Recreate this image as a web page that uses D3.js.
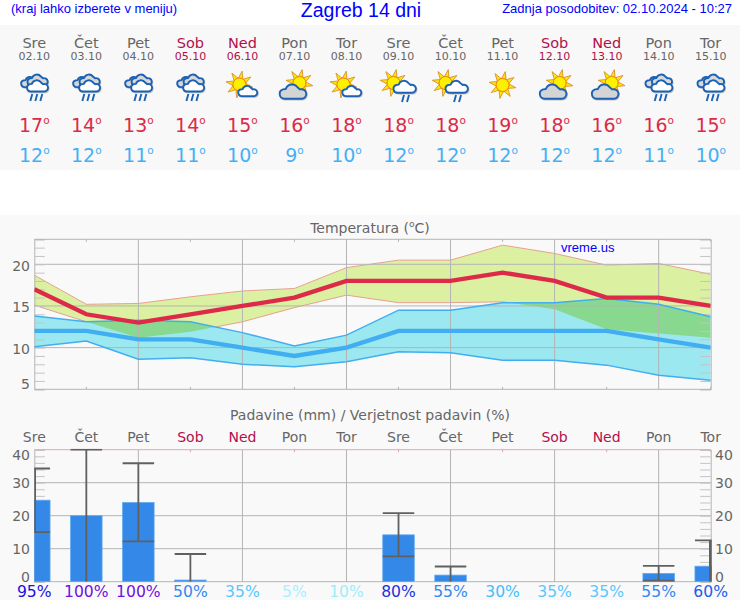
<!DOCTYPE html>
<html>
<head>
<meta charset="utf-8">
<script src="https://cdn.jsdelivr.net/npm/d3@7"></script>
<style>
body { margin: 0; background: #fff; }
text { font-family: "DejaVu Sans", sans-serif; fill: #666; }
.head { font-family: "Liberation Sans", Arial, sans-serif; fill: #0000ff; }
</style>
</head>
<body>
<svg width="740" height="600"></svg>
<script>
var svg = d3.select("svg");

// Data
var days = ["Sre", "Čet", "Pet", "Sob", "Ned", "Pon", "Tor", "Sre", "Čet", "Pet", "Sob", "Ned", "Pon", "Tor"];
var dates = ["02.10", "03.10", "04.10", "05.10", "06.10", "07.10", "08.10", "09.10", "10.10", "11.10", "12.10", "13.10", "14.10", "15.10"];
var icons = ["rain", "rain", "rain", "rain", "sunCloud", "cloudSun", "sunCloud", "sunRain", "sunRain", "sun", "cloudSun", "cloudSun", "rain", "rain"];
var tMax = [17, 14, 13, 14, 15, 16, 18, 18, 18, 19, 18, 16, 16, 15];
var tMin = [12, 12, 11, 11, 10, 9, 10, 12, 12, 12, 12, 12, 11, 10];
var tMaxHigh = [18.7, 15.2, 15.3, 16.1, 16.8, 17.1, 19.6, 20.5, 20.5, 22.3, 21.3, 19.9, 20.1, 18.8];
var tMaxLow = [15.1, 13.1, 11.2, 11.9, 13.1, 14.8, 16.3, 15.4, 15.4, 15.5, 14.6, 12.2, 11.7, 11.2];
var tMinHigh = [13.8, 13.1, 13.3, 13.1, 11.8, 10.2, 11.5, 14.5, 14.5, 15.4, 15.4, 15.9, 15.2, 13.7];
var tMinLow = [10.1, 10.8, 8.6, 8.8, 8, 7.7, 8.3, 9.5, 9.4, 8.5, 8.5, 7.9, 6.7, 6.1];
var rain = [24.7, 20, 24, 0.5, 0, 0, 0, 14.2, 2, 0, 0, 0, 2.5, 4.7];
var rainHigh = [34.3, 40, 35.9, 8.4, 0, 0, 0, 20.8, 4.6, 0, 0, 0, 4.8, 12.5];
var rainLow = [15, 0, 12.2, 0, 0, 0, 0, 7.7, 0, 0, 0, 0, 0.3, 0];
var rainProb = [95, 100, 100, 50, 35, 5, 10, 80, 55, 30, 35, 35, 55, 60];
var probColors = ["#2010e0", "#7010e0", "#7010e0", "#3388f0", "#58c8ff", "#a8f0ff", "#a0ecf8", "#2030e0", "#3388f0", "#40c0ff", "#58c8ff", "#58c8ff", "#3388f0", "#2060e8"];

var weekend = "#b0104c", red = "#dc2a48", blue = "#40aef0";
var idx = d3.range(days.length);
var dayColor = function (i) { return days[i] == "Sob" || days[i] == "Ned" ? weekend : "#666"; };

// Scales
var left = 34.3, right = 710.7;
var x = d3.scaleLinear().domain([0, 13]).range([left, right]);
var yT = d3.scaleLinear().domain([5, 23]).range([389.3, 239.3]);
var yR = d3.scaleLinear().domain([0, 40]).range([581.7, 449.7]);

// Backgrounds
svg.append("rect").attr("y", 25).attr("width", 740).attr("height", 145).attr("fill", "#f8f8f8");
svg.append("rect").attr("y", 215).attr("width", 740).attr("height", 385).attr("fill", "#f9f9f9");

// Header
svg.append("text").attr("class", "head").attr("x", 11).attr("y", 13).attr("font-size", 13).text("(kraj lahko izberete v meniju)");
svg.append("text").attr("class", "head").attr("x", 361).attr("y", 17).attr("font-size", 19.5).attr("text-anchor", "middle").text("Zagreb 14 dni");
svg.append("text").attr("class", "head").attr("x", 732).attr("y", 13).attr("font-size", 13).attr("text-anchor", "end").text("Zadnja posodobitev: 02.10.2024 - 10:27");

// Forecast table
var col = svg.append("g").selectAll("g").data(idx).enter().append("g")
    .attr("transform", function (i) { return "translate(" + x(i) + ",0)"; });
col.append("text").attr("y", 48).attr("text-anchor", "middle").attr("font-size", 14.5)
    .style("fill", dayColor).text(function (i) { return days[i]; });
col.append("text").attr("y", 60).attr("text-anchor", "middle").attr("font-size", 11)
    .style("fill", dayColor).text(function (i) { return dates[i]; });

function degree(sel, y, values, color) {
    var t = sel.append("text").attr("y", y).attr("text-anchor", "middle").attr("font-size", 19).style("fill", color);
    t.append("tspan").text(function (i) { return values[i]; });
    t.append("tspan").attr("font-size", 10.5).attr("dy", -8).text("o");
}
degree(col, 132, tMax, red);
degree(col, 162, tMin, "#44b0f4");

// Weather icons
function drawCloud(g, cx, cy, s, fill) {
    var p = d3.path();
    p.moveTo(cx - 10 * s, cy + 6 * s);
    p.arc(cx - 10 * s, cy + 1 * s, 5 * s, Math.PI / 2, Math.PI * 1.4);
    p.arc(cx - 2 * s, cy - 2 * s, 7 * s, Math.PI * 1.1, Math.PI * 1.8);
    p.arc(cx + 8 * s, cy + 1 * s, 5 * s, Math.PI * 1.4, Math.PI * 2.5);
    p.closePath();
    g.append("path").attr("d", p.toString()).attr("transform", "translate(0.8,1)").attr("fill", "none")
        .attr("stroke", "#c0c0c0").attr("stroke-width", 1.6);
    g.append("path").attr("d", p.toString()).attr("fill", fill)
        .attr("stroke", "#1c62b4").attr("stroke-width", 1.9).attr("stroke-linejoin", "round");
}
function drawSun(g, cx, cy, r) {
    d3.range(8).forEach(function (k) {
        var a = k * Math.PI / 4 + 0.2, b = 0.36;
        var pts = [[cx + r * Math.cos(a - b), cy + r * Math.sin(a - b)],
                   [cx + r * 2.1 * Math.cos(a), cy + r * 2.1 * Math.sin(a)],
                   [cx + r * Math.cos(a + b), cy + r * Math.sin(a + b)]];
        g.append("path").attr("d", d3.line()(pts) + "Z").attr("fill", "#ffe800")
            .attr("stroke", "#d89030").attr("stroke-width", 0.9);
    });
    g.append("circle").attr("cx", cx).attr("cy", cy).attr("r", r).attr("fill", "#fff000")
        .attr("stroke", "#f08010").attr("stroke-width", 1);
}
function drawDrops(g, cx, y, n) {
    d3.range(n).forEach(function (k) {
        var dx = cx + (k - (n - 1) / 2) * 5;
        g.append("line").attr("x1", dx + 1).attr("x2", dx - 1).attr("y1", y).attr("y2", y + 7)
            .attr("stroke", "#1c62b4").attr("stroke-width", 1.9);
    });
}
var iconDraw = {
    rain: function (g) {
        drawCloud(g, -3, 83, 0.68, "#d8d8d8");
        drawCloud(g, 4, 81, 0.72, "#d8d8d8");
        drawCloud(g, 4, 87, 0.75, "#fff");
        drawDrops(g, 2, 94, 3);
    },
    sunCloud: function (g) {
        drawSun(g, -3, 84.5, 6.5);
        drawCloud(g, 6, 92, 0.68, "#fff");
    },
    cloudSun: function (g) {
        drawSun(g, 5, 83, 6.5);
        drawCloud(g, -0.5, 93, 0.95, "#d4d4d4");
    },
    sunRain: function (g) {
        drawSun(g, -5, 83, 6.5);
        drawCloud(g, 7, 88, 0.8, "#fff");
        drawDrops(g, 7, 95, 2);
    },
    sun: function (g) {
        drawSun(g, 0, 85, 6.5);
    }
};
col.each(function (i) { iconDraw[icons[i]](d3.select(this)); });

// Temperature chart
svg.append("text").attr("x", 370).attr("y", 233).attr("text-anchor", "middle").attr("font-size", 14)
    .call(function (t) {
        t.append("tspan").text("Temperatura (");
        t.append("tspan").attr("font-size", 9).attr("dy", -6).text("o");
        t.append("tspan").attr("dy", 6).text("C)");
    });

var defs = svg.append("defs");
defs.append("clipPath").attr("id", "clipT").append("rect")
    .attr("x", left).attr("y", yT(23)).attr("width", right - left).attr("height", yT(5) - yT(23));
defs.append("clipPath").attr("id", "clipR").append("rect")
    .attr("x", left).attr("y", yR(40) - 1).attr("width", right - left + 1).attr("height", yR(0) - yR(40) + 1);

function band(hi, lo, y) {
    return d3.area().x(function (i) { return x(i); })
        .y0(function (i) { return y(lo[i]); })
        .y1(function (i) { return y(hi[i]); })(idx);
}
function trace(v, y) {
    return d3.line().x(function (i) { return x(i); }).y(function (i) { return y(v[i]); })(idx);
}
defs.append("clipPath").attr("id", "clipWarm").append("path").attr("d", band(tMaxHigh, tMaxLow, yT));

// red band and its edges go under the blue band
var gT = svg.append("g").attr("clip-path", "url(#clipT)");
gT.append("path").attr("d", band(tMaxHigh, tMaxLow, yT)).attr("fill", "#dbf0a0");
gT.append("path").attr("d", trace(tMaxHigh, yT)).attr("fill", "none").attr("stroke", "#e8a090");
gT.append("path").attr("d", trace(tMaxLow, yT)).attr("fill", "none").attr("stroke", "#e8a090");
gT.append("path").attr("d", band(tMinHigh, tMinLow, yT)).attr("fill", "#9ce8f0");
gT.append("g").attr("clip-path", "url(#clipWarm)")
    .append("path").attr("d", band(tMinHigh, tMinLow, yT)).attr("fill", "#88d890");

// Axes and grid lines
function frame(yScale, majors, ticks) {
    var g = svg.append("g");
    g.selectAll(".gx").data(idx.filter(function (i) { return i % 2 == 0 && i > 0 && i < 13; })).enter().append("line")
        .attr("x1", x).attr("x2", x).attr("y1", yScale.range()[1]).attr("y2", yScale.range()[0])
        .attr("stroke", "#b4b4b4");
    g.selectAll(".gy").data(majors).enter().append("line")
        .attr("x1", left).attr("x2", right).attr("y1", yScale).attr("y2", yScale)
        .attr("stroke", "#b4b4b4");
    var axL = d3.axisLeft(yScale).tickValues(ticks).tickSize(-10.5).tickFormat("");
    var axR = d3.axisRight(yScale).tickValues(ticks).tickSize(-10.5).tickFormat("");
    [g.append("g").attr("transform", "translate(" + left + ",0)").call(axL),
     g.append("g").attr("transform", "translate(" + right + ",0)").call(axR)].forEach(function (a) {
        a.selectAll("line").attr("stroke", "#c4c4c4");
        a.select(".domain").attr("stroke", "#b4b4b4");
    });
    return g;
}
var frameT = frame(yT, [10, 15, 20], d3.range(5, 24));
[yT(23), yT(5)].forEach(function (v) {
    frameT.append("line").attr("x1", left).attr("x2", right).attr("y1", v).attr("y2", v).attr("stroke", "#b4b4b4");
});
frameT.selectAll(".oddT").data(idx.filter(function (i) { return i % 2 == 1; })).enter().append("line")
    .attr("x1", x).attr("x2", x).attr("y1", yT(23)).attr("y2", yT(23) + 2.5).attr("stroke", "#b4b4b4");
frameT.selectAll(".oddB").data(idx.filter(function (i) { return i % 2 == 1; })).enter().append("line")
    .attr("x1", x).attr("x2", x).attr("y1", yT(5)).attr("y2", yT(5) - 2.5).attr("stroke", "#b4b4b4");

var gT2 = svg.append("g").attr("clip-path", "url(#clipT)");
gT2.append("path").attr("d", trace(tMinHigh, yT)).attr("fill", "none").attr("stroke", blue).attr("stroke-width", 1.5);
gT2.append("path").attr("d", trace(tMinLow, yT)).attr("fill", "none").attr("stroke", blue).attr("stroke-width", 1.5);
gT2.append("path").attr("d", trace(tMin, yT)).attr("fill", "none").attr("stroke", blue).attr("stroke-width", 4.3);
gT2.append("path").attr("d", trace(tMax, yT)).attr("fill", "none").attr("stroke", red).attr("stroke-width", 4.3);

var tempLabels = [20, 15, 10, 5];
svg.selectAll(".tl").data(tempLabels).enter().append("text")
    .attr("x", 30).attr("text-anchor", "end").attr("font-size", 14)
    .attr("y", function (d) { return yT(d) + (d == 5 ? 0 : 6.5); })
    .text(function (d) { return d; });

svg.append("text").attr("class", "head").attr("x", 561).attr("y", 252).attr("font-size", 13).text("vreme.us");

// Rain chart
svg.append("text").attr("x", 370).attr("y", 420).attr("text-anchor", "middle").attr("font-size", 14)
    .text("Padavine (mm) / Verjetnost padavin (%)");
svg.selectAll(".rd").data(idx).enter().append("text")
    .attr("x", x).attr("y", 442).attr("text-anchor", "middle").attr("font-size", 14)
    .style("fill", dayColor).text(function (i) { return days[i]; });

var frameR = frame(yR, [10, 20, 30], d3.range(0, 41, 2));
frameR.append("line").attr("x1", left).attr("x2", right).attr("y1", yR(0)).attr("y2", yR(0)).attr("stroke", "#b4b4b4");
frameR.append("line").attr("x1", left).attr("x2", right).attr("y1", yR(40)).attr("y2", yR(40)).attr("stroke", "#e4a4bc");
frameR.selectAll(".oddR").data(idx.filter(function (i) { return i % 2 == 1; })).enter().append("line")
    .attr("x1", x).attr("x2", x).attr("y1", yR(40)).attr("y2", yR(40) + 2.5).attr("stroke", "#e4a4bc");

var gR = svg.append("g").attr("clip-path", "url(#clipR)");
var barW = 31.5;
gR.selectAll(".bar").data(idx.filter(function (i) { return rain[i] > 0; })).enter().append("rect")
    .attr("x", function (i) { return x(i) - barW / 2; })
    .attr("y", function (i) { return yR(rain[i]); })
    .attr("width", barW)
    .attr("height", function (i) { return yR(0) - yR(rain[i]); })
    .attr("fill", "#3388e8").attr("stroke", "#60aaf0").attr("stroke-width", 0.8);
var withErr = idx.filter(function (i) { return rainHigh[i] > 0; });
gR.selectAll(".err").data(withErr).enter().append("line")
    .attr("x1", x).attr("x2", x)
    .attr("y1", function (i) { return yR(rainHigh[i]); })
    .attr("y2", function (i) { return yR(rainLow[i]); })
    .attr("stroke", "#606060").attr("stroke-width", function (i) { return i == 0 || i == 13 ? 3.4 : 1.8; });
gR.selectAll(".capH").data(withErr).enter().append("line")
    .attr("x1", function (i) { return x(i) - barW / 2; }).attr("x2", function (i) { return x(i) + barW / 2; })
    .attr("y1", function (i) { return yR(rainHigh[i]); }).attr("y2", function (i) { return yR(rainHigh[i]); })
    .attr("stroke", "#606060").attr("stroke-width", 1.8);
gR.selectAll(".capL").data(withErr.filter(function (i) { return rainLow[i] > 0; })).enter().append("line")
    .attr("x1", function (i) { return x(i) - barW / 2; }).attr("x2", function (i) { return x(i) + barW / 2; })
    .attr("y1", function (i) { return yR(rainLow[i]); }).attr("y2", function (i) { return yR(rainLow[i]); })
    .attr("stroke", "#606060").attr("stroke-width", 1.8);

var rainLabels = [40, 30, 20, 10, 0];
var labelShift = function (d) { return d == 40 ? 10 : d == 0 ? 0 : 5; };
svg.selectAll(".rl").data(rainLabels).enter().append("text")
    .attr("x", 30).attr("text-anchor", "end").attr("font-size", 14)
    .attr("y", function (d) { return yR(d) + labelShift(d); }).text(function (d) { return d; });
svg.selectAll(".rr").data(rainLabels).enter().append("text")
    .attr("x", 715).attr("font-size", 14)
    .attr("y", function (d) { return yR(d) + labelShift(d); }).text(function (d) { return d; });

svg.selectAll(".prob").data(idx).enter().append("text")
    .attr("x", x).attr("y", 597).attr("text-anchor", "middle").attr("font-size", 15.6)
    .style("fill", function (i) { return probColors[i]; })
    .text(function (i) { return rainProb[i] + "%"; });
</script>
</body>
</html>
